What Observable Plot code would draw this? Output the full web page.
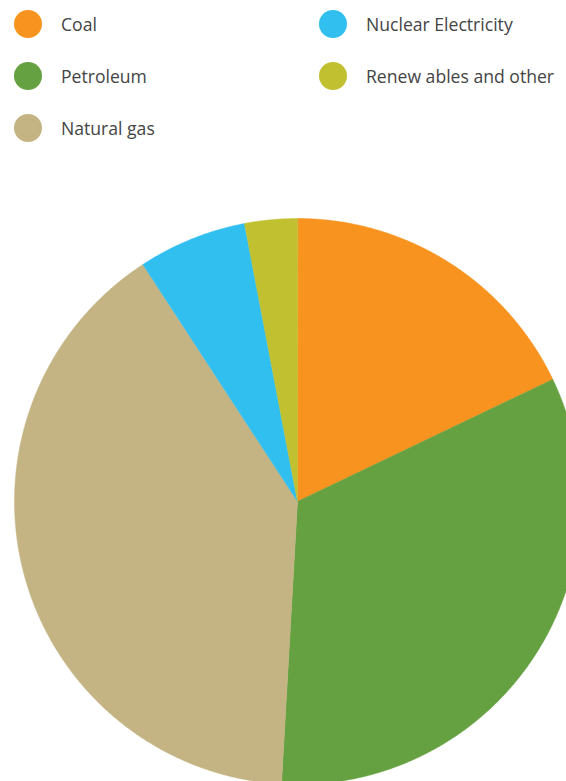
<!DOCTYPE html>
<html>
<head>
<meta charset="utf-8">
<script src="https://cdn.jsdelivr.net/npm/d3@7"></script>
<script src="https://cdn.jsdelivr.net/npm/@observablehq/plot@0.6"></script>
<style>
  html, body { margin: 0; padding: 0; background: #fff; overflow: hidden; }
  #legend { position: relative; height: 160px; font-family: "Open Sans", sans-serif; font-size: 17.6px; color: #444; }
  .item { position: absolute; display: flex; align-items: center; height: 28px; }
  .sw { width: 28px; height: 28px; border-radius: 50%; margin-right: 19px; flex: none; }
  .item span { white-space: nowrap; }
  #chart svg { display: block; }
</style>
</head>
<body>
<div id="legend"></div>
<div id="chart"></div>
<script>
const categories = ["Coal", "Petroleum", "Natural gas", "Nuclear Electricity", "Renew ables and other"];
const shares = [17.9, 33.0, 39.9, 6.2, 3.0];
const colors = ["#F7931E", "#65A041", "#C4B484", "#31BFF0", "#C1C030"];

// Legend (HTML)
const legendPos = [[14, 10], [14, 62], [14, 114], [319, 10], [319, 62]];
const legend = document.getElementById("legend");
categories.forEach((c, i) => {
  const it = document.createElement("div");
  it.className = "item";
  it.style.left = legendPos[i][0] + "px";
  it.style.top = legendPos[i][1] + "px";
  it.innerHTML = `<div class="sw" style="background:${colors[i]}"></div><span>${c}</span>`;
  legend.appendChild(it);
});

// Pie slices built from the data via d3.pie, drawn as filled closed lines on Plot's x/y scales
const data = categories.map((c, i) => ({name: c, value: shares[i]}));
const arcs = d3.pie().sort(null).value(d => d.value)(data);
const pts = [];
arcs.forEach(a => {
  const n = Math.max(2, Math.ceil((a.endAngle - a.startAngle) / 0.005));
  pts.push({name: a.data.name, x: 0, y: 0});
  for (let k = 0; k <= n; k++) {
    const t = a.startAngle + (a.endAngle - a.startAngle) * k / n;
    pts.push({name: a.data.name, x: Math.sin(t), y: Math.cos(t)});
  }
});

const chart = Plot.plot({
  width: 566,
  height: 621,
  margin: 0,
  x: {domain: [-1, 1], range: [14, 580], axis: null},
  y: {domain: [-1, 1], range: [624, 58], axis: null},
  color: {domain: categories, range: colors},
  marks: [
    Plot.line(pts, {x: "x", y: "y", z: "name", fill: "name", stroke: "name", strokeWidth: 0.5, curve: "linear-closed"})
  ]
});
document.getElementById("chart").appendChild(chart);
</script>
</body>
</html>
